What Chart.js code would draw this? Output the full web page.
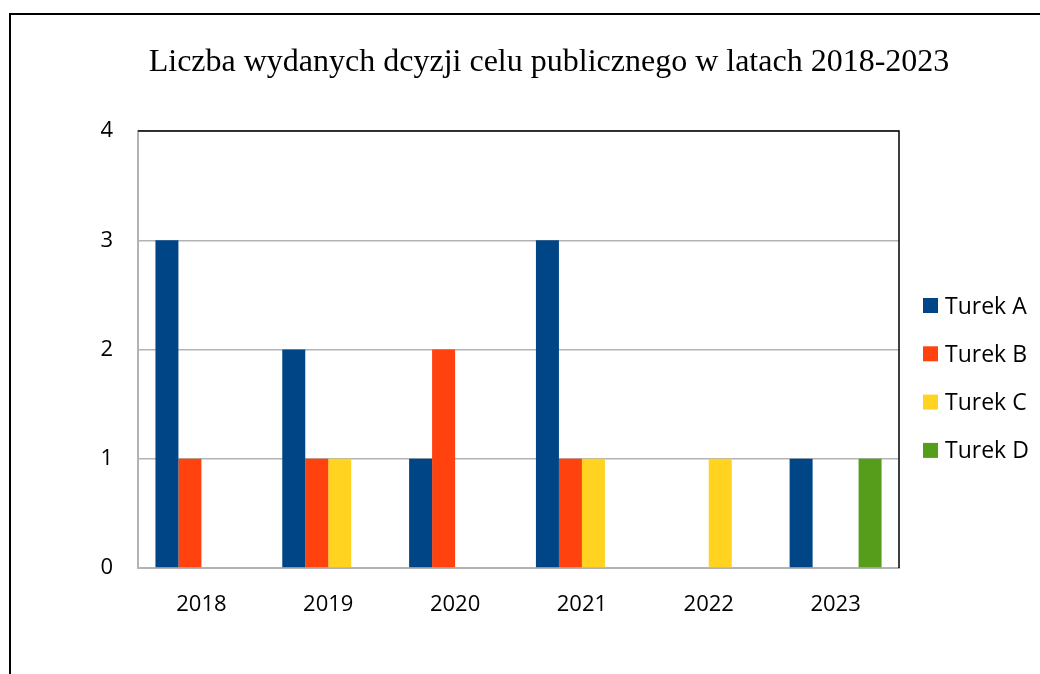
<!DOCTYPE html>
<html>
<head>
<meta charset="utf-8">
<script src="https://cdn.jsdelivr.net/npm/chart.js@4.4.1/dist/chart.umd.min.js"></script>
<style>
  body { margin: 0; background: #fff; }
  #frame { position: absolute; left: 9px; top: 13px; width: 1100px; height: 720px; border: 2px solid #000; box-sizing: border-box; }
  #wrap { position: absolute; left: 0; top: 0; width: 1040px; height: 674px; }
</style>
</head>
<body>
<div id="frame"></div>
<div id="wrap"><canvas id="chart" width="1040" height="674"></canvas></div>
<script>
const years = ["2018", "2019", "2020", "2021", "2022", "2023"];
const seriesNames = ["Turek A", "Turek B", "Turek C", "Turek D"];
const turekA = [3, 2, 1, 3, 0, 1];
const turekB = [1, 1, 2, 1, 0, 0];
const turekC = [0, 1, 0, 1, 1, 0];
const turekD = [0, 0, 0, 0, 0, 1];
const colors = ["#004586", "#ff420e", "#ffd320", "#579d1c"];
const chartTitle = "Liczba wydanych dcyzji celu publicznego w latach 2018-2023";

// tytul - wysrodkowany na calej ramce, a nie na obszarze wykresu
const topTitle = {
  id: "topTitle",
  afterDraw(chart) {
    const ctx = chart.ctx;
    ctx.save();
    ctx.font = '32px "Liberation Serif"';
    ctx.fillStyle = "#000";
    ctx.textAlign = "center";
    ctx.textBaseline = "alphabetic";
    ctx.fillText(chartTitle, 549, 71);
    ctx.restore();
  },
};

// legenda po prawej stronie, rysowana recznie
const sideLegend = {
  id: "sideLegend",
  afterDraw(chart) {
    const ctx = chart.ctx;
    const x = chart.chartArea.right + 24;
    const y0 = 306;
    const step = 48.3;
    ctx.save();
    ctx.font = '23px "Open Sans"';
    ctx.textBaseline = "middle";
    chart.data.datasets.forEach((ds, i) => {
      const y = y0 + i * step;
      ctx.fillStyle = ds.backgroundColor;
      ctx.fillRect(x, y - 8, 15, 15);
      ctx.fillStyle = "#000";
      ctx.fillText(ds.label, x + 22, y + 1);
    });
    ctx.restore();
  },
};

// gorna i prawa krawedz obszaru wykresu na czarno
const wallBorder = {
  id: "wallBorder",
  beforeDatasetsDraw(chart) {
    const { ctx, chartArea: a } = chart;
    ctx.save();
    ctx.strokeStyle = "#000";
    ctx.lineWidth = 1.5;
    ctx.beginPath();
    ctx.moveTo(a.left, a.top);
    ctx.lineTo(a.right, a.top);
    ctx.lineTo(a.right, a.bottom);
    ctx.stroke();
    ctx.restore();
  },
};

const datasets = [turekA, turekB, turekC, turekD].map((vals, i) => ({
  label: seriesNames[i],
  data: vals,
  backgroundColor: colors[i],
  borderWidth: 0,
  categoryPercentage: 0.725,
  barPercentage: 1,
}));

new Chart(document.getElementById("chart"), {
  type: "bar",
  data: { labels: years, datasets: datasets },
  options: {
    responsive: false,
    animation: false,
    layout: { padding: { left: 0, right: 141, top: 131, bottom: 0 } },
    plugins: {
      legend: { display: false },
      tooltip: { enabled: false },
      title: { display: false },
    },
    scales: {
      x: {
        grid: { display: false, drawTicks: false },
        border: { color: "#b3b3b3", width: 2 },
        ticks: { color: "#000", font: { family: '"Open Sans"', size: 22 }, padding: 24 },
        afterFit(s) { s.height = 106; },
      },
      y: {
        min: 0,
        max: 4,
        grid: { color: "#b3b3b3", lineWidth: 1.5, drawTicks: false },
        border: { color: "#b3b3b3", width: 2 },
        ticks: { stepSize: 1, color: "#000", font: { family: '"Open Sans"', size: 22 }, padding: 25 },
        afterFit(s) { s.width = 138; },
      },
    },
  },
  plugins: [wallBorder, sideLegend, topTitle],
});
</script>
</body>
</html>
